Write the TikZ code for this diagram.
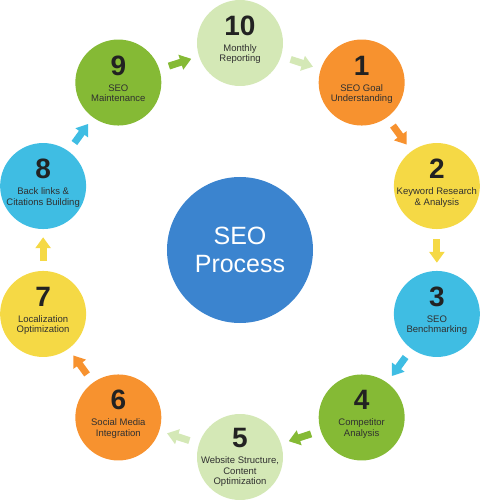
\documentclass[tikz,border=0pt]{standalone}
\usepackage{fontspec}
\setmainfont{Liberation Sans}
\usetikzlibrary{arrows.meta}
\definecolor{cOrange}{HTML}{F7922F}
\definecolor{cYellow}{HTML}{F5D945}
\definecolor{cLBlue}{HTML}{3FBDE3}
\definecolor{cGreen}{HTML}{85BA35}
\definecolor{cLGreen}{HTML}{D4E8B6}
\definecolor{cBlue}{HTML}{3B84CF}
\definecolor{cText}{HTML}{303030}
\definecolor{cNum}{HTML}{222222}
\newcommand\seostep[6]{%
  \node[circ=#3] (#1) at (#2:207) {};
  \node[num, anchor=base] (#1n) at ([yshift=7.5pt+#6]#1.center) {#4};
  \node[lab, anchor=base] (#1t) at ([yshift=-8.5pt+#6]#1.center)
    {\begin{tabular}[t]{@{}c@{}}#5\end{tabular}};
}
\begin{document}
\begin{tikzpicture}[x=1pt,y=1pt,
  circ/.style={circle, minimum size=86pt, inner sep=0pt, fill=#1, draw=none},
  num/.style={inner sep=0pt, text=cNum, font=\fontsize{28}{28}\selectfont\bfseries},
  lab/.style={inner sep=0pt, text=cText, font=\fontsize{9.5}{10.5}\selectfont},
  conn/.style={draw=#1, line width=7pt, -{Triangle[width=15pt,length=11pt]},
    shorten <=10pt, shorten >=8pt}]
\useasboundingbox (-240,-250) rectangle (240,250);
% centre
\node[circle, minimum size=146pt, inner sep=0pt, fill=cBlue] (center) at (0,0) {};
\node[anchor=base, inner sep=0pt, text=white, font=\fontsize{25}{28}\selectfont] (centert) at (0,5)
  {\begin{tabular}[t]{@{}c@{}}SEO\\Process\end{tabular}};
% steps
\seostep{s10}{90}{cLGreen}{10}{Monthly\\Reporting}{0pt}
\seostep{s1}{54}{cOrange}{1}{SEO Goal\\Understanding}{0pt}
\seostep{s2}{18}{cYellow}{2}{Keyword Research\\\& Analysis}{0pt}
\seostep{s3}{-18}{cLBlue}{3}{SEO\\Benchmarking}{0pt}
\seostep{s4}{-54}{cGreen}{4}{Competitor\\Analysis}{0pt}
\seostep{s5}{-90}{cLGreen}{5}{Website Structure,\\Content\\Optimization}{2pt}
\seostep{s6}{-126}{cOrange}{6}{Social Media\\Integration}{0pt}
\seostep{s7}{-162}{cYellow}{7}{Localization\\Optimization}{0pt}
\seostep{s8}{162}{cLBlue}{8}{Back links \&\\Citations Building}{0pt}
\seostep{s9}{126}{cGreen}{9}{SEO\\Maintenance}{0pt}
% arrows
\draw[conn=cLGreen] (s10) -- (s1);
\draw[conn=cOrange] (s1) -- (s2);
\draw[conn=cYellow] (s2) -- (s3);
\draw[conn=cLBlue] (s3) -- (s4);
\draw[conn=cGreen] (s4) -- (s5);
\draw[conn=cLGreen] (s5) -- (s6);
\draw[conn=cOrange] (s6) -- (s7);
\draw[conn=cYellow] (s7) -- (s8);
\draw[conn=cLBlue] (s8) -- (s9);
\draw[conn=cGreen] (s9) -- (s10);
\end{tikzpicture}
\end{document}
